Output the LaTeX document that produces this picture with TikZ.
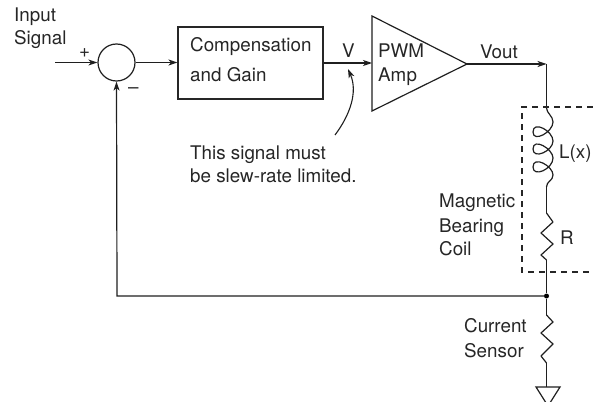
\documentclass[tikz,border=0pt]{standalone}
\usepackage{fontspec}
\setmainfont{TeX Gyre Heros}
\usetikzlibrary{arrows.meta}
\tikzset{
  x=1pt,y=-1pt,
  wire/.style={line width=1.2pt,draw=black!88},
  sig/.style={wire,-{Stealth[length=9pt,width=6pt,inset=2.5pt]}},
  block/.style={draw=black!85,line width=1.1pt,minimum width=145pt,minimum height=72pt,inner sep=0pt},
  sumcirc/.style={circle,draw=black!88,line width=1.2pt,minimum size=37pt,inner sep=0pt},
  lbl/.style={anchor=base west,inner sep=0pt,text=black!85,font=\fontsize{18.8}{18.8}\selectfont},
  dot/.style={circle,fill=black,minimum size=5pt,inner sep=0pt},
  dashbox/.style={line width=1.2pt,draw=black!85,dash pattern=on 6pt off 5pt}
}
\begin{document}
\begin{tikzpicture}
\useasboundingbox (0,0) rectangle (593,401);
\clip (0,0) rectangle (593,401);
\node[sumcirc] (sum) at (116.5,62.5) {};
\node[block] (comp) at (250.5,63) {};
\coordinate (ampA) at (372,16);
\coordinate (ampB) at (372,111);
\coordinate (ampT) at (467,64);
\coordinate (ampIn) at (372,63);
\draw[wire,line join=miter] (ampA) -- (ampT) -- (ampB) -- cycle;
\coordinate (in) at (55,62.5);
\coordinate (corner) at (546.5,64);
\coordinate (coilTop) at (546.5,108);
\coordinate (coilEnd) at (546.5,187);
\coordinate (rTop) at (546.5,213);
\coordinate (rEnd) at (546.5,260);
\node[dot] (junc) at (546.5,296) {};
\coordinate (sTop) at (546.5,315);
\coordinate (sEnd) at (546.5,363);
\coordinate (gnd) at (546.5,387);
\coordinate (fb) at (117,296);
\coordinate (noteA) at (335,135);
\coordinate (noteB) at (348,69);
% connectors
\draw[sig] (in) -- (sum.west);
\draw[sig] (sum.east) -- (comp.west |- sum.east);
\draw[sig] (comp.east |- ampIn) -- (ampIn);
\draw[sig] (ampT) -- (corner);
\draw[wire] (corner) -- (coilTop);
\draw[wire] (coilEnd) -- (rTop);
\draw[wire] (rEnd) -- (junc);
\draw[wire] (junc) -- (sTop);
\draw[wire] (sEnd) -- (gnd);
\draw[sig] (junc) -- (fb) -- (sum.south);
\draw[sig,line width=1.1pt] (noteA) .. controls (350,115) and (358,92) .. (noteB);
% inductor
\draw[wire,line join=round] (coilTop)
 .. controls (546.5,113) and (553,116) .. (553,122)
 .. controls (553,132) and (533,143) .. (533,132)
 .. controls (533,120) and (553,131) .. (553,141)
 .. controls (553,151) and (533,160) .. (533,149)
 .. controls (533,137) and (553,149) .. (553,158)
 .. controls (553,169) and (533,178) .. (533,167)
 .. controls (533,155) and (553,166) .. (553,175)
 .. controls (553,181) and (546.5,181) .. (coilEnd);
% resistors
\draw[wire,line join=round] (rTop) -- (553,222) -- (541,233) -- (553,244) -- (541,255) -- (rEnd);
\draw[wire,line join=round] (sTop) -- (553,322) -- (541,333) -- (553,344) -- (541,356) -- (sEnd);
% ground
\coordinate (gndL) at (536,387);
\coordinate (gndR) at (560,387);
\coordinate (gndA) at (548,406);
\draw[wire] (gndL) -- (gndR) -- (gndA) -- cycle;
% magnetic bearing dashed box
\draw[dashbox] (593,107) -- (522,107) -- (522,272) -- (593,272);
% labels
\node[lbl] (t1) at (14,22) {Input};
\node[lbl] (t2) at (14,45) {Signal};
\node[lbl] (t3) at (79,58) {+};
\node[lbl] (t4) at (128,94) {\textendash};
\node[lbl] (t5) at (190,52) {Compensation};
\node[lbl] (t6) at (190,82) {and Gain};
\node[lbl] (t7) at (342,58) {V};
\node[lbl] (t8) at (378,58) {PWM};
\node[lbl] (t9) at (378,82) {Amp};
\node[lbl] (t10) at (480,59) {Vout};
\node[lbl] (t11) at (190,159) {This signal must};
\node[lbl] (t12) at (190,182) {be slew-rate limited.};
\node[lbl] (t13) at (559,158) {L(x)};
\node[lbl] (t14) at (439,207) {Magnetic};
\node[lbl] (t15) at (439,232) {Bearing};
\node[lbl] (t16) at (439,255) {Coil};
\node[lbl] (t17) at (560,244) {R};
\node[lbl] (t18) at (464,332) {Current};
\node[lbl] (t19) at (464,357) {Sensor};
\end{tikzpicture}
\end{document}
